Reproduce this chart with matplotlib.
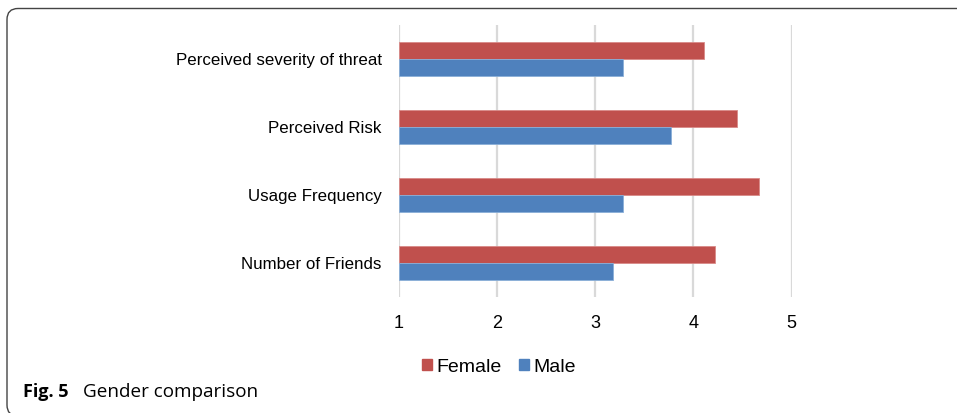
import matplotlib
matplotlib.use("Agg")
import matplotlib.pyplot as plt
import numpy as np
from matplotlib.patches import FancyBboxPatch, Patch

# Mean scores by gender (bottom-to-top category order)
categories = ["Number of Friends", "Usage Frequency", "Perceived Risk",
              "Perceived severity of threat"]
female = [4.22, 4.67, 4.45, 4.11]
male = [3.18, 3.29, 3.77, 3.29]
x_ticks = [1, 2, 3, 4, 5]

RED = "#C0504D"
BLUE = "#4F81BD"

W, H = 957, 413
fig = plt.figure(figsize=(W / 100, H / 100), dpi=100)
fig.patch.set_facecolor("white")

# plot area in pixel coordinates
left, right, top, bottom = 398.5, 791.5, 25, 297
ax = fig.add_axes([left / W, 1 - bottom / H, (right - left) / W, (bottom - top) / H])

y = np.arange(len(categories))
h = 0.257
ax.barh(y + h / 2, [v - 1 for v in female], height=h, left=1, color=RED,
        edgecolor="#D98A88", linewidth=0.6, label="Female", zorder=3)
ax.barh(y - h / 2, [v - 1 for v in male], height=h, left=1, color=BLUE,
        edgecolor="#8AAFD8", linewidth=0.6, label="Male", zorder=3)

ax.set_xlim(1, 5)
ax.set_ylim(-0.5, len(categories) - 0.5)
ax.set_xticks(x_ticks)
ax.set_xticklabels([str(t) for t in x_ticks], fontsize=13, family="Liberation Sans")
ax.set_yticks(y)
ax.set_yticklabels(categories, fontsize=12.2, family="Liberation Sans")
ax.tick_params(axis="x", length=0, pad=13)
ax.tick_params(axis="y", length=0, pad=12)
for s in ax.spines.values():
    s.set_visible(False)
ax.grid(axis="x", color="#D9D9D9", linewidth=1.6, zorder=0)
ax.set_facecolor("white")

# legend
handles = [Patch(color=RED, label="Female"), Patch(color=BLUE, label="Male")]
fig.legend(handles=handles, loc="center", bbox_to_anchor=(499 / W, 1 - 367 / H),
           ncol=2, frameon=False, prop={"family": "Liberation Sans", "size": 14},
           handlelength=0.5, handleheight=0.5, handletextpad=0.25,
           columnspacing=0.9)

# caption
fig.text(23 / W, 1 - 392 / H, "Fig. 5", fontsize=13, fontweight="bold",
         family="Open Sans", va="center", ha="left")
fig.text(83 / W, 1 - 392 / H, "Gender comparison", fontsize=13.6,
         family="Open Sans", va="center", ha="left")

# rounded frame around the figure panel, running off the right and bottom edges
fx0, fy0 = 7, 8.5
fx1, fy1 = W + 20, H + 3
frame = FancyBboxPatch((fx0 / W, 1 - fy1 / H), (fx1 - fx0) / W, (fy1 - fy0) / H,
                       boxstyle="round,pad=0,rounding_size=0.0115",
                       transform=fig.transFigure, fill=False,
                       edgecolor="#444444", linewidth=1.0,
                       mutation_aspect=W / H, clip_on=False)
fig.add_artist(frame)

fig.savefig("out.png", dpi=100, facecolor="white")
